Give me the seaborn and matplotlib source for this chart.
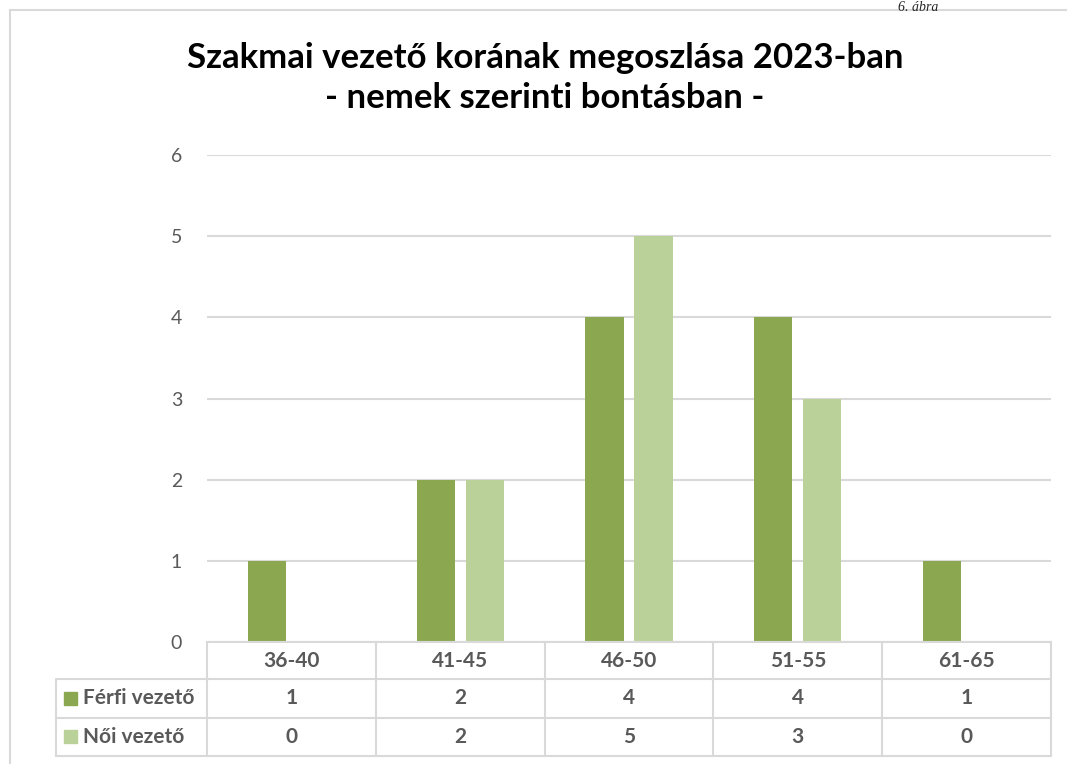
import seaborn as sb
import matplotlib.pyplot as plt
import matplotlib.transforms as mtransforms
from matplotlib.patches import Rectangle
import pandas as pd

# data
age_groups = ['36-40', '41-45', '46-50', '51-55', '61-65']
ferfi = [1, 2, 4, 4, 1]
noi = [0, 2, 5, 3, 0]
series_names = ['Férfi vezető', 'Női vezető']
series_colors = ['#8BA851', '#BBD19A']

title = 'Szakmai vezető korának megoszlása 2023-ban\n- nemek szerinti bontásban -'

df = pd.DataFrame({
    'kor': age_groups * 2,
    'fo': ferfi + noi,
    'nem': [series_names[0]] * len(age_groups) + [series_names[1]] * len(age_groups),
})

sb.set_style('white')
plt.rcParams['font.family'] = ['Lato', 'DejaVu Sans']
text_col = '#595959'
line_col = '#D9D9D9'

W, H = 1067, 764
fig = plt.figure(figsize=(W / 100, H / 100), dpi=100)
ax = fig.add_axes([207 / W, 1 - 642 / H, (1051 - 207) / W, (642 - 155) / H])

sb.barplot(data=df, x='kor', y='fo', hue='nem', palette=series_colors,
           width=0.58, gap=0.22, ax=ax, legend=False, saturation=1,
           linewidth=0)

ax.set_ylim(0, 6)
ax.set_xlim(-0.5, len(age_groups) - 0.5)
ax.set_yticks(range(0, 7))
ax.yaxis.grid(True, color=line_col, lw=1.5)
ax.set_axisbelow(True)
for s in ax.spines.values():
    s.set_visible(False)
ax.tick_params(axis='y', length=0, pad=18, labelsize=14, labelcolor=text_col)
ax.set_xticks([])
ax.set_xlabel('')
ax.set_ylabel('')

# data table below the plot
tr = mtransforms.blended_transform_factory(ax.transData, ax.transAxes)
rows_y = [0.0, -0.076, -0.156, -0.234]
left_x = -1.395
n = len(age_groups)
kw = dict(color=line_col, lw=1.5, transform=tr, clip_on=False)
# horizontal lines
ax.plot([-0.5, n - 0.5], [rows_y[0]] * 2, **kw)
for yy in rows_y[1:]:
    ax.plot([left_x, n - 0.5], [yy] * 2, **kw)
# vertical lines
for i in range(n + 1):
    ax.plot([i - 0.5] * 2, [rows_y[0], rows_y[3]], **kw)
ax.plot([left_x] * 2, [rows_y[1], rows_y[3]], **kw)

tkw = dict(transform=tr, ha='center', va='center', fontsize=15,
           fontweight='bold', color=text_col, clip_on=False)
for i, lab in enumerate(age_groups):
    ax.text(i, (rows_y[0] + rows_y[1]) / 2, lab, **tkw)
for r, vals in enumerate([ferfi, noi]):
    yc = (rows_y[r + 1] + rows_y[r + 2]) / 2
    for i, v in enumerate(vals):
        ax.text(i, yc, str(v), **tkw)
    # legend key + name
    ax.add_patch(Rectangle((left_x + 0.048, yc - 0.013), 0.077, 0.027,
                           transform=tr, color=series_colors[r], clip_on=False))
    ax.text(left_x + 0.16, yc, series_names[r], transform=tr, ha='left',
            va='center', fontsize=15, fontweight='bold', color=text_col,
            clip_on=False)

# chart frame and title
fig.patches.append(Rectangle((10 / W, -0.1), 1.2, 1 - 10 / H + 0.1,
                             transform=fig.transFigure, fill=False,
                             edgecolor=line_col, lw=1.5))
fig.text(545 / W, 1 - 78 / H, title, ha='center', va='center',
         fontsize=25, fontweight='bold', color='black', linespacing=1.27)
fig.text(918 / W, 1 - 1 / H, '6. ábra', ha='center', va='top',
         fontsize=10, style='italic', family='Liberation Serif')

fig.savefig('out.png', dpi=100, facecolor='white')
